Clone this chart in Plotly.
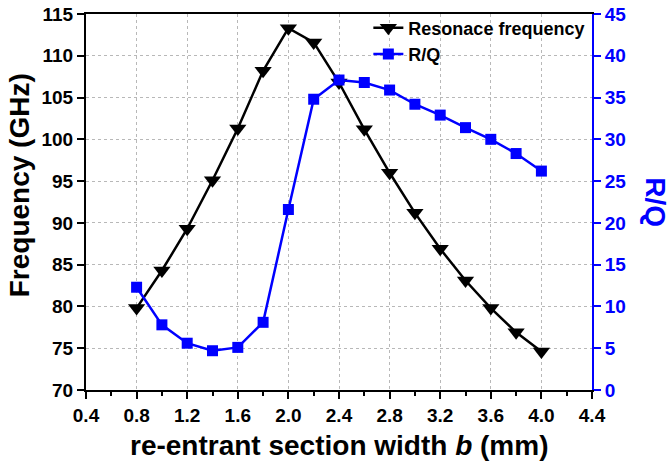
import plotly.graph_objects as go

width_b = [0.8, 1.0, 1.2, 1.4, 1.6, 1.8, 2.0, 2.2, 2.4, 2.6, 2.8, 3.0, 3.2, 3.4, 3.6, 3.8, 4.0]
freq_ghz = [79.8, 84.3, 89.3, 95.1, 101.3, 108.2, 113.3, 111.6, 106.8, 101.2, 96.0, 91.2, 86.9, 83.1, 79.8, 76.9, 74.6]
r_over_q = [12.3, 7.8, 5.6, 4.7, 5.1, 8.1, 21.6, 34.8, 37.1, 36.8, 35.9, 34.2, 32.9, 31.4, 30.0, 28.3, 26.2]

x_ticks = [0.4, 0.8, 1.2, 1.6, 2.0, 2.4, 2.8, 3.2, 3.6, 4.0, 4.4]
freq_ticks = [70, 75, 80, 85, 90, 95, 100, 105, 110, 115]
rq_ticks = [0, 5, 10, 15, 20, 25, 30, 35, 40, 45]

FONT = "Liberation Sans, Arial, sans-serif"
BLUE = "#0000ff"

fig = go.Figure()
fig.add_trace(go.Scatter(
    x=width_b, y=freq_ghz, name="Resonace frequency", mode="lines+markers",
    line=dict(color="black", width=2.5),
    marker=dict(symbol="triangle-down", size=15, color="black"),
    yaxis="y",
))
fig.add_trace(go.Scatter(
    x=width_b, y=r_over_q, name="R/Q", mode="lines+markers",
    line=dict(color=BLUE, width=2.5),
    marker=dict(symbol="square", size=11, color=BLUE),
    yaxis="y2",
))

tickfont = dict(family=FONT, size=19, color="black", weight="bold")

fig.update_layout(
    width=670, height=468,
    margin=dict(l=86, r=78, t=14, b=78, autoexpand=False),
    paper_bgcolor="white", plot_bgcolor="white",
    showlegend=True,
    legend=dict(x=0.558, y=1.012, xanchor="left", yanchor="top",
                bgcolor="rgba(0,0,0,0)",
                font=dict(family=FONT, size=18, color="black", weight="bold"),
                tracegroupgap=0, itemwidth=30),
    xaxis=dict(
        range=[0.4, 4.4],
        tickvals=x_ticks, ticktext=[f"<b>{v:.1f}</b>" for v in x_ticks],
        showline=True, linecolor="black", linewidth=2, mirror=True,
        ticks="outside", ticklen=7, tickwidth=2, tickcolor="black",
        minor=dict(dtick=0.2, tick0=0.4, ticks="outside", ticklen=4, tickwidth=2, tickcolor="black", showgrid=False),
        showgrid=True, gridcolor="#b8b8b8", griddash="dot", gridwidth=1,
        tickfont=tickfont, zeroline=False,
    ),
    yaxis=dict(
        range=[70, 115],
        tickvals=freq_ticks, ticktext=[f"<b>{v}</b>" for v in freq_ticks],
        showline=True, linecolor="black", linewidth=2,
        ticks="outside", ticklen=7, tickwidth=2, tickcolor="black",
        showgrid=True, gridcolor="#b8b8b8", griddash="dot", gridwidth=1,
        tickfont=tickfont, zeroline=False,
    ),
    yaxis2=dict(
        range=[0, 45], overlaying="y", side="right",
        tickvals=rq_ticks, ticktext=[f"<b>{v}</b>" for v in rq_ticks],
        showline=True, linecolor=BLUE, linewidth=2,
        ticks="outside", ticklen=7, tickwidth=2, tickcolor=BLUE,
        showgrid=False,
        tickfont=dict(family=FONT, size=19, color=BLUE, weight="bold"), zeroline=False,
    ),
    annotations=[
        dict(text="re-entrant section width <i>b</i> (mm)", xref="paper", yref="paper",
             x=0.5, y=-0.148, xanchor="center", yanchor="middle", showarrow=False,
             font=dict(family=FONT, size=28, color="black", weight="bold")),
        dict(text="Frequency (GHz)", xref="paper", yref="paper",
             x=-0.132, y=0.545, xanchor="center", yanchor="middle", showarrow=False, textangle=-90,
             font=dict(family=FONT, size=28, color="black", weight="bold")),
        dict(text="R/Q", xref="paper", yref="paper",
             x=1.126, y=0.5, xanchor="center", yanchor="middle", showarrow=False, textangle=90,
             font=dict(family=FONT, size=28, color=BLUE, weight="bold")),
    ],
)

fig.write_html("out.html")
